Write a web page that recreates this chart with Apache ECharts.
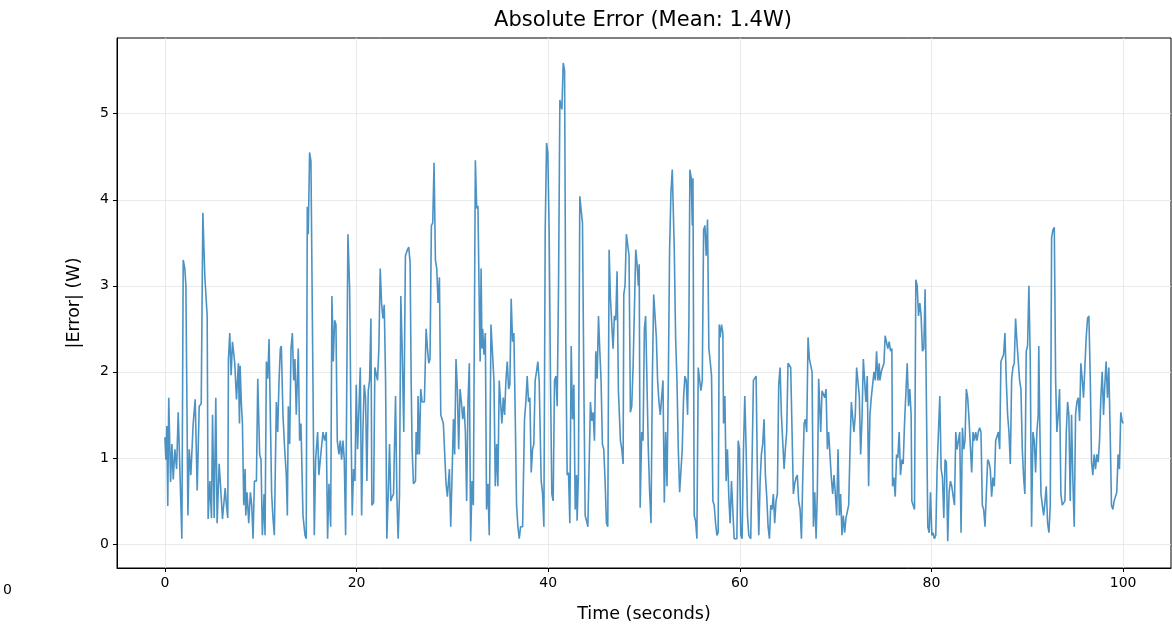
<!DOCTYPE html>
<html>
<head>
<meta charset="utf-8">
<script src="https://cdn.jsdelivr.net/npm/echarts@6/dist/echarts.min.js"></script>
<style>
  html, body { margin: 0; padding: 0; background: #fff; }
  #chart { width: 1172px; height: 629px; }
</style>
</head>
<body>
<div id="chart"></div>
<script>
// labels
const chartTitle = 'Absolute Error (Mean: 1.4W)';
const xName = 'Time (seconds)';
const yName = '|Error| (W)';
const xTicks = [0, 20, 40, 60, 80, 100];
const yTicks = [0, 1, 2, 3, 4, 5];

// [time (s), |error| (W)]
const errorPoints = [
  [0.00,1.24],[0.10,0.98],[0.20,1.37],[0.30,0.44],[0.40,1.70],[0.59,0.72],[0.73,1.16],[0.87,0.75],[1.04,1.10],[1.22,0.87],
  [1.39,1.53],[1.56,0.87],[1.77,0.06],[1.91,3.30],[2.08,3.20],[2.19,3.00],[2.40,0.33],[2.54,1.10],[2.71,0.80],[2.95,1.40],
  [3.16,1.68],[3.37,0.62],[3.58,1.60],[3.79,1.63],[3.96,3.85],[4.17,3.10],[4.41,2.65],[4.51,0.29],[4.69,0.73],[4.86,0.30],
  [4.97,1.50],[5.14,0.30],[5.31,1.70],[5.45,0.24],[5.66,0.93],[5.83,0.63],[6.01,0.29],[6.29,0.65],[6.42,0.45],[6.56,0.30],
  [6.63,2.15],[6.77,2.45],[6.91,1.96],[7.05,2.35],[7.29,2.10],[7.47,1.68],[7.67,2.10],[7.78,1.40],
  [7.85,2.07],[7.98,1.63],[8.09,1.40],[8.23,0.45],[8.37,0.87],[8.44,0.33],[8.57,0.60],[8.75,0.24],[8.92,0.60],[9.06,0.45],
  [9.20,0.06],[9.34,0.73],[9.55,0.73],[9.69,1.92],[9.89,1.04],[10.03,0.98],[10.17,0.10],[10.35,0.58],[10.45,0.10],[10.59,2.12],
  [10.73,1.92],[10.87,2.38],[11.00,2.38],[11.14,0.58],[11.28,0.30],[11.42,0.10],[11.63,1.65],[11.77,1.30],[11.91,1.90],[12.05,2.27],
  [12.15,2.30],[12.32,1.50],[12.50,1.10],[12.67,0.80],[12.78,0.33],[12.88,1.60],[13.02,1.16],[13.16,2.27],[13.30,2.45],[13.44,1.90],
  [13.57,2.15],[13.71,1.50],[13.92,2.27],[14.06,1.20],[14.20,1.40],[14.41,0.33],[14.62,0.10],[14.75,0.06],[14.86,3.92],[14.96,3.60],
  [15.10,4.55],[15.24,4.45],[15.31,3.60],[15.45,1.90],[15.59,0.10],[15.73,0.98],[15.94,1.30],[16.07,0.80],
  [16.32,1.10],[16.50,1.30],[16.67,1.20],[16.84,1.30],[16.98,0.06],[17.12,0.70],[17.30,0.20],[17.43,2.88],[17.57,2.12],[17.71,2.60],
  [17.85,2.55],[17.99,1.20],[18.16,1.04],[18.30,1.20],[18.44,0.98],[18.58,1.20],[18.72,0.98],[18.86,0.10],[19.10,3.60],[19.28,2.96],
  [19.41,1.50],[19.55,0.33],[19.69,0.87],[19.83,0.73],[19.97,1.85],[20.11,1.10],[20.25,1.10],[20.39,2.05],[20.53,0.33],[20.66,1.30],
  [20.80,1.85],[20.94,1.70],[21.08,0.73],[21.22,1.78],[21.36,1.90],[21.50,2.62],[21.60,0.45],[21.78,0.48],[21.91,2.05],[22.05,2.05],
  [22.19,1.90],[22.33,2.27],[22.47,3.20],[22.61,2.80],[22.75,2.62],[22.89,2.78],[23.03,1.90],[23.16,0.06],[23.30,0.55],[23.44,1.16],
  [23.58,0.50],[23.72,0.55],[23.86,0.58],[24.07,1.72],[24.21,0.55],[24.34,0.06],[24.48,0.55],[24.62,2.88],
  [24.76,2.27],[24.93,1.30],[25.10,3.35],[25.31,3.42],[25.45,3.45],[25.59,3.27],[25.70,1.90],[25.80,1.10],[25.94,0.70],[26.15,0.73],
  [26.22,1.30],[26.36,1.04],[26.42,1.72],[26.56,1.04],[26.70,1.80],[26.84,1.65],[27.08,1.65],[27.26,2.50],[27.40,2.27],[27.54,2.10],
  [27.67,2.15],[27.81,3.70],[27.95,3.73],[28.09,4.43],[28.23,3.30],[28.37,3.20],[28.51,2.80],[28.65,3.10],[28.79,1.50],[28.92,1.50],
  [29.06,1.40],[29.34,0.70],[29.48,0.55],[29.69,0.87],[29.83,0.20],[29.97,0.80],[30.11,1.45],[30.24,1.04],[30.38,2.15],[30.52,1.80],
  [30.66,1.10],[30.80,1.80],[30.94,1.65],[31.08,1.45],[31.22,1.60],[31.36,1.30],[31.49,0.50],[31.63,1.65],[31.77,2.10],[31.91,0.03],
  [32.05,0.73],[32.19,0.45],[32.40,4.46],[32.54,3.90],[32.67,3.93],[32.81,2.75],[32.90,2.12],[33.00,3.20],
  [33.09,2.27],[33.16,2.50],[33.30,2.20],[33.44,2.45],[33.57,0.40],[33.71,0.70],[33.85,0.10],[34.03,2.55],[34.20,2.55],[34.34,1.90],
  [34.48,0.67],[34.62,1.16],[34.75,0.67],[34.89,1.90],[35.03,1.90],[35.17,1.40],[35.31,1.70],[35.45,1.50],[35.59,1.90],[35.73,2.12],
  [35.87,1.80],[36.00,1.85],[36.14,2.85],[36.28,2.35],[36.42,2.45],[36.56,1.50],[36.70,0.45],[36.84,0.20],[36.98,0.06],[37.12,0.20],
  [37.33,0.20],[37.53,1.45],[37.67,1.65],[37.81,1.95],[37.95,1.65],[38.09,1.70],[38.23,0.83],[38.37,1.10],[38.50,1.16],[38.64,1.90],
  [38.78,2.00],[38.92,2.12],[39.06,1.90],[39.27,0.73],[39.41,0.60],[39.55,0.20],[39.69,3.65],[39.83,4.66],[39.96,4.55],[40.10,3.65],
  [40.24,1.90],[40.38,0.58],[40.52,0.50],[40.66,1.90],[40.80,1.95],[40.94,1.60],[41.08,3.00],[41.22,5.16],
  [41.29,5.12],[41.43,5.05],[41.57,5.59],[41.71,5.50],[41.84,2.35],[41.98,0.80],[42.12,0.83],[42.26,0.24],[42.40,2.30],[42.54,1.45],
  [42.68,1.85],[42.82,0.40],[42.96,0.80],[43.02,0.27],[43.16,0.83],[43.30,4.04],[43.44,4.04],[43.58,3.73],[43.72,1.90],[43.86,0.33],
  [44.00,0.27],[44.14,0.20],[44.27,0.20],[44.41,1.65],[44.55,1.43],[44.69,1.53],[44.83,1.20],[44.97,2.24],[45.11,1.92],[45.25,2.65],
  [45.39,2.24],[45.52,1.90],[45.66,1.16],[45.80,1.10],[45.94,0.73],[46.08,0.24],[46.22,0.20],[46.36,3.42],[46.50,2.85],[46.64,2.85],
  [46.77,2.27],[46.91,2.65],[47.05,2.60],[47.19,3.17],[47.33,1.78],[47.54,1.20],[47.68,1.10],[47.82,0.93],[47.89,2.90],[48.02,3.00],
  [48.16,3.60],[48.30,3.60],[48.44,3.35],[48.58,1.53],[48.72,1.60],[48.86,2.05],[49.00,2.05],[49.14,3.42],[49.28,3.25],[49.41,3.00],
  [49.50,3.25],
  [49.60,0.42],[49.76,1.30],[49.90,1.20],[50.04,2.50],[50.17,2.65],[50.31,2.65],[50.45,1.10],[50.59,0.60],[50.73,0.24],[50.87,1.90],
  [51.01,2.90],[51.15,2.90],[51.29,2.40],[51.42,1.90],[51.56,1.65],[51.70,1.50],[51.84,1.70],[51.98,1.90],[52.12,0.48],[52.26,1.30],
  [52.40,0.67],[52.54,1.90],[52.67,3.42],[52.81,4.08],[52.95,4.35],[53.09,4.35],[53.16,3.42],[53.30,2.40],[53.44,1.90],[53.58,1.10],
  [53.72,0.60],[53.86,0.60],[53.99,1.10],[54.13,1.70],[54.27,1.95],[54.41,1.90],[54.55,1.50],[54.69,2.60],[54.79,4.35],[54.93,4.25],
  [55.04,3.70],[55.11,4.25],[55.24,0.33],[55.38,0.27],[55.52,0.06],[55.66,2.05],[55.80,2.05],[55.94,1.78],[56.08,1.90],[56.22,3.65],
  [56.36,3.70],[56.49,3.35],[56.63,3.77],[56.77,2.27],[56.91,2.12],[57.05,1.95],[57.19,0.50],[57.33,0.45],[57.47,0.24],[57.61,0.10],
  [57.74,0.13],
  [57.85,2.55],[57.95,2.40],[58.09,2.55],[58.23,2.45],[58.30,1.40],[58.44,1.72],[58.57,0.73],[58.71,1.10],[58.85,0.55],[58.99,0.24],
  [59.13,0.73],[59.27,0.73],[59.41,0.06],[59.55,0.06],[59.69,0.06],[59.83,1.20],[59.96,1.10],[60.10,0.10],[60.24,0.06],[60.38,1.10],
  [60.52,1.72],[60.66,1.10],[60.80,0.33],[60.94,0.10],[61.14,0.06],[61.28,0.06],[61.42,1.90],[61.56,1.92],[61.70,1.95],[61.84,0.77],
  [61.98,0.10],[62.12,0.73],[62.25,1.04],[62.39,1.16],[62.53,1.45],[62.67,0.80],[62.81,0.55],[62.95,0.20],[63.09,0.06],[63.23,0.45],
  [63.37,0.40],[63.50,0.58],[63.64,0.24],[63.78,0.50],[63.92,0.58],[64.06,1.85],[64.20,2.05],[64.34,1.50],[64.48,1.50],[64.62,0.87],
  [64.75,1.10],[64.89,1.30],[65.03,2.10],[65.17,2.10],[65.31,2.05],[65.45,2.05],[65.59,0.58],[65.73,0.70],[65.87,0.77],[66.00,0.80],
  [66.14,0.50],
  [66.29,0.40],[66.43,0.06],[66.57,0.77],[66.71,1.40],[66.84,1.45],[66.98,1.30],[67.12,2.40],[67.26,2.15],[67.40,2.15],[67.54,2.00],
  [67.68,0.20],[67.82,0.60],[67.96,0.06],[68.09,0.60],[68.23,1.92],[68.37,1.90],[68.44,1.30],[68.58,1.78],[68.72,1.78],[68.86,1.70],
  [69.00,1.80],[69.14,1.10],[69.27,1.30],[69.41,1.30],[69.55,0.77],[69.69,0.58],[69.83,0.80],[69.97,0.58],[70.11,0.33],[70.25,1.10],
  [70.39,0.33],[70.52,0.58],[70.66,0.10],[70.80,0.33],[70.94,0.13],[71.08,0.30],[71.22,0.30],[71.36,0.45],[71.50,1.10],[71.64,1.65],
  [71.77,1.65],[71.91,1.30],[72.05,1.50],[72.19,2.05],[72.33,2.05],[72.47,1.72],[72.61,1.04],[72.75,1.45],[72.89,2.15],[73.02,2.15],
  [73.16,1.65],[73.30,1.95],[73.44,0.67],[73.58,1.50],[73.72,1.70],[73.86,1.70],[74.00,2.00],[74.14,1.90],[74.27,2.24],[74.41,1.90],
  [74.55,2.10],
  [74.62,1.90],[74.76,2.00],[74.90,2.05],[75.04,2.10],[75.17,2.42],[75.31,2.40],[75.45,2.27],[75.59,2.35],[75.73,2.24],[75.87,2.27],
  [75.94,0.67],[76.08,0.77],[76.22,0.55],[76.36,1.04],[76.49,1.00],[76.63,1.30],[76.77,0.80],[76.91,0.98],[77.05,0.93],[77.19,1.40],
  [77.33,1.40],[77.47,2.10],[77.61,1.60],[77.74,1.80],[77.88,1.50],[77.95,0.50],[78.09,0.50],[78.23,0.40],[78.37,3.07],[78.51,3.00],
  [78.65,2.65],[78.79,2.80],[78.92,2.65],[79.06,2.24],[79.20,2.27],[79.34,2.96],[79.48,2.96],[79.62,0.20],[79.76,0.13],[79.90,0.60],
  [80.04,0.10],[80.17,0.13],[80.31,0.06],[80.45,0.10],[80.59,0.87],[80.73,1.30],[80.87,1.72],[81.01,0.87],[81.15,0.77],[81.29,0.30],
  [81.42,0.98],[81.56,0.95],[81.70,0.03],[81.84,0.60],[81.98,0.73],[82.12,0.67],[82.26,0.67],[82.40,0.45],[82.54,1.30],[82.67,1.10],
  [82.81,1.10],
  [82.95,1.30],[83.09,0.13],[83.23,1.35],[83.37,1.10],[83.50,1.20],[83.64,1.80],[83.78,1.70],[83.92,1.45],[84.06,1.45],[84.20,0.83],
  [84.34,1.30],[84.48,1.20],[84.62,1.30],[84.75,1.20],[84.89,1.30],[85.03,1.35],[85.17,1.30],[85.31,0.45],[85.45,0.40],[85.59,0.20],
  [85.73,0.60],[85.87,0.98],[86.00,0.95],[86.14,0.87],[86.28,0.55],[86.42,0.77],[86.56,0.67],[86.70,1.20],[86.84,1.20],[86.98,1.30],
  [87.12,1.10],[87.25,2.12],[87.39,2.12],[87.53,2.20],[87.67,2.45],[87.81,1.90],[87.95,1.50],[88.09,1.30],[88.23,0.93],[88.37,1.92],
  [88.50,2.05],[88.64,2.10],[88.78,2.62],[88.92,2.35],[89.06,2.35],[89.20,1.90],[89.34,1.80],[89.48,1.10],[89.62,0.77],[89.75,0.58],
  [89.89,2.24],[90.03,2.30],[90.17,3.00],[90.31,2.15],[90.45,0.20],[90.59,1.30],[90.73,1.20],[90.87,0.83],[91.00,1.30],[91.14,1.50],
  [91.20,2.30],
  [91.29,1.50],[91.43,0.58],[91.57,0.45],[91.71,0.33],[91.84,0.48],[91.98,0.67],[92.12,0.24],[92.26,0.13],[92.40,0.45],[92.54,3.56],
  [92.68,3.65],[92.82,3.68],[92.96,1.90],[93.09,1.30],[93.23,1.50],[93.37,1.80],[93.51,0.58],[93.65,0.45],[93.79,0.45],[93.93,0.50],
  [94.07,1.30],[94.21,1.65],[94.34,1.50],[94.48,0.50],[94.62,1.50],[94.76,0.73],[94.90,0.20],[95.04,1.50],[95.18,1.65],[95.32,1.70],
  [95.46,1.43],[95.59,2.10],[95.73,1.92],[95.87,1.70],[96.01,2.05],[96.15,2.40],[96.29,2.62],[96.43,2.65],[96.57,1.95],[96.71,0.95],
  [96.84,0.80],[96.98,1.04],[97.12,0.87],[97.26,1.04],[97.40,0.95],[97.54,1.20],[97.68,1.70],[97.82,2.00],[97.96,1.50],[98.09,1.85],
  [98.23,2.12],[98.37,1.70],[98.51,2.05],[98.65,1.30],[98.79,0.45],[98.93,0.40],[99.07,0.50],[99.21,0.50],[99.34,0.60],[99.48,1.04],
  [99.62,0.87],[99.76,1.53],[99.90,1.43],[100.00,1.40]
];

const font = 'DejaVu Sans';
const chart = echarts.init(document.getElementById('chart'));

chart.setOption({
  animation: false,
  backgroundColor: '#fff',
  title: {
    text: chartTitle,
    left: 643,
    top: 10,
    padding: 0,
    textAlign: 'center',
    textStyle: { fontFamily: font, fontSize: 21, fontWeight: 'normal', color: '#000' }
  },
  grid: {
    left: 117, right: 1, top: 38, bottom: 61,
    show: true, borderColor: '#000', borderWidth: 1, backgroundColor: 'transparent'
  },
  xAxis: {
    type: 'value', min: -5, max: 105,
    name: xName, nameLocation: 'middle', nameGap: 37,
    nameTextStyle: { fontFamily: font, fontSize: 17.5, color: '#000' },
    axisLine: { show: true, onZero: false, lineStyle: { color: '#000', width: 1 } },
    axisTick: { show: true, length: 4, customValues: xTicks, lineStyle: { color: '#000' } },
    axisLabel: { customValues: xTicks, margin: 8, fontFamily: font, fontSize: 14, color: '#000' },
    splitLine: { show: true, lineStyle: { color: '#e5e5e5', width: 0.8 } }
  },
  yAxis: {
    type: 'value', min: -0.28, max: 5.88,
    name: yName, nameLocation: 'middle', nameGap: 34,
    nameTextStyle: { fontFamily: font, fontSize: 17.5, color: '#000' },
    axisLine: { show: true, onZero: false, lineStyle: { color: '#000', width: 1 } },
    axisTick: { show: true, length: 4, customValues: yTicks, lineStyle: { color: '#000' } },
    axisLabel: { customValues: yTicks, margin: 8, fontFamily: font, fontSize: 14, color: '#000' },
    splitLine: { show: true, lineStyle: { color: '#e5e5e5', width: 0.8 } }
  },
  graphic: [{
    type: 'text', left: 3, top: 583,
    style: { text: '0', font: '14px "DejaVu Sans"', fill: '#000' }
  }],
  series: [{
    type: 'line',
    data: errorPoints,
    showSymbol: false,
    clip: true,
    lineStyle: { color: '#1f77b4', width: 1.6, opacity: 0.8 }
  }]
});
</script>
</body>
</html>
